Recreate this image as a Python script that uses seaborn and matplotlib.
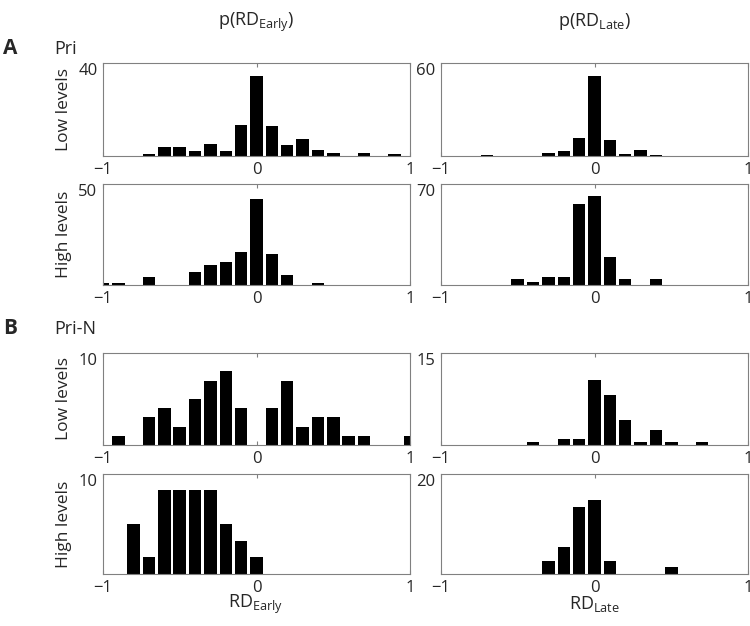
"""
Distribution of response differences (RD) for Pri and Pri-N groups
"""

import pandas as pd
import seaborn as sns
import matplotlib.pyplot as plt
import matplotlib.transforms as mtransforms

# bin centres, -1 .. 1 in steps of 0.1
rd_bins = [-1.0, -0.9, -0.8, -0.7, -0.6, -0.5, -0.4, -0.3, -0.2, -0.1, 0.0,
           0.1, 0.2, 0.3, 0.4, 0.5, 0.6, 0.7, 0.8, 0.9, 1.0]

# A: Pri
pri_early_low = [0, 0, 0, 0.7, 4.0, 4.0, 2.0, 5.3, 2.0, 13.3, 34.2,
                 12.7, 4.6, 7.4, 2.7, 1.3, 0, 1.3, 0, 0.7, 0]
pri_late_low = [0, 0, 0, 0.5, 0, 0, 0, 1.7, 3.5, 11.9, 51.5,
                10.2, 1.5, 4.1, 0.4, 0, 0, 0, 0, 0, 0]
pri_early_high = [1.15, 1.15, 0, 3.8, 0, 0, 6.25, 10.0, 11.3, 16.4, 42.4,
                  15.1, 4.9, 0, 1.15, 0, 0, 0, 0, 0, 0]
pri_late_high = [0, 0, 0, 0, 0, 3.9, 1.8, 5.5, 5.5, 56.4, 61.7,
                 19.6, 3.9, 0, 3.9, 0, 0, 0, 0, 0, 0]

# B: Pri-N
prin_early_low = [0, 1, 0, 3, 4, 2, 5, 7, 8, 4, 0,
                  4, 7, 2, 3, 3, 1, 1, 0, 0, 1]
prin_late_low = [0, 0, 0, 0, 0, 0, 0.45, 0, 0.95, 0.95, 10.6,
                 8.1, 4.0, 0.45, 2.5, 0.45, 0, 0.45, 0, 0, 0]
prin_early_high = [0, 0, 5.0, 1.7, 8.4, 8.4, 8.4, 8.4, 5.0, 3.35, 1.7,
                   0, 0, 0, 0, 0, 0, 0, 0, 0, 0]
prin_late_high = [0, 0, 0, 0, 0, 0, 0, 2.66, 5.4, 13.4, 14.8,
                  2.66, 0, 0, 0, 1.33, 0, 0, 0, 0, 0]

y_max = [40, 60, 50, 70, 10, 15, 10, 20]
row_labels = ["Low levels", "High levels", "Low levels", "High levels"]

sns.set_theme(style="white")
plt.rcParams["font.family"] = ["Open Sans", "DejaVu Sans"]
plt.rcParams["mathtext.fontset"] = "custom"
plt.rcParams["mathtext.rm"] = "Open Sans"
plt.rcParams["mathtext.it"] = "Open Sans:italic"

W, H = 750, 626
fig = plt.figure(figsize=(7.5, 6.26), dpi=100)


def px_axes(left, top, right, bottom):
    return fig.add_axes([left / W, 1 - bottom / H,
                         (right - left) / W, (bottom - top) / H])


rows = [(63, 156), (184, 285), (353, 445), (474, 574)]
cols = [(103, 410), (441, 748)]
series = [pri_early_low, pri_late_low, pri_early_high, pri_late_high,
          prin_early_low, prin_late_low, prin_early_high, prin_late_high]

for i, values in enumerate(series):
    r, c = divmod(i, 2)
    ax = px_axes(cols[c][0], rows[r][0], cols[c][1], rows[r][1])
    df = pd.DataFrame({"rd": rd_bins, "n": values})
    sns.histplot(data=df, x="rd", weights="n", binwidth=0.1,
                 binrange=(-1.05, 1.05), shrink=0.82,
                 color="black", edgecolor="none", linewidth=0, alpha=1,
                 ax=ax)
    ax.set_xlim(-1, 1)
    ax.set_ylim(0, y_max[i])
    ax.set_xticks([-1, 0, 1])
    ax.set_xticklabels(["\u22121", "0", "1"])
    ax.set_yticks([y_max[i]])
    ax.set_xlabel("")
    ax.set_ylabel("")
    ax.tick_params(axis="x", direction="in", top=True, bottom=True,
                   length=3, width=0.8, color="#808080", pad=4,
                   labelsize=12)
    ax.tick_params(axis="y", direction="in", left=True, length=0,
                   pad=4, labelsize=12)
    offset = mtransforms.ScaledTranslation(0, -0.06, fig.dpi_scale_trans)
    for lbl in ax.get_yticklabels():
        lbl.set_transform(lbl.get_transform() + offset)
    for sp in ax.spines.values():
        sp.set_color("#808080")
        sp.set_linewidth(0.8)
    if c == 0:
        ax.text((64 - 103) / 307, 0.5, row_labels[r], rotation=90,
                ha="center", va="center", fontsize=12.5,
                transform=ax.transAxes)

fig.text(256 / W, 1 - 22 / H, r"p(RD$_{\mathrm{Early}}$)",
         ha="center", va="center", fontsize=13)
fig.text(594 / W, 1 - 22 / H, r"p(RD$_{\mathrm{Late}}$)",
         ha="center", va="center", fontsize=13)
fig.text(256 / W, 1 - 604 / H, r"RD$_{\mathrm{Early}}$",
         ha="center", va="center", fontsize=13)
fig.text(594 / W, 1 - 604 / H, r"RD$_{\mathrm{Late}}$",
         ha="center", va="center", fontsize=13)

fig.text(10 / W, 1 - 48 / H, "A", ha="center", va="center",
         fontsize=15, weight="bold")
fig.text(54 / W, 1 - 49 / H, "Pri", ha="left", va="center", fontsize=13)
fig.text(10 / W, 1 - 328 / H, "B", ha="center", va="center",
         fontsize=15, weight="bold")
fig.text(54 / W, 1 - 329 / H, "Pri-N", ha="left", va="center", fontsize=13)

plt.savefig("out.png", dpi=100)
plt.close()
